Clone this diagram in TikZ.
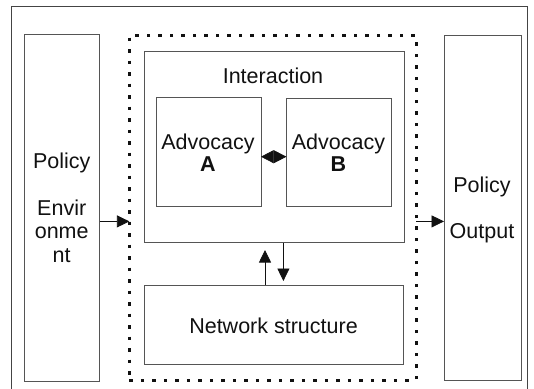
\documentclass[tikz,border=0pt]{standalone}
\usepackage{fontspec}
\setmainfont{Liberation Sans}
\usetikzlibrary{arrows.meta}
\definecolor{frame}{HTML}{555555}
\definecolor{ink}{HTML}{111111}
\tikzset{
  box/.style={draw=frame, line width=0.9pt, outer sep=0pt, inner sep=0pt, fill=white},
  grpbox/.style={draw=ink, line width=3pt, dash pattern=on 3.5pt off 8pt, outer sep=0pt, inner sep=0pt},
  lbl/.style={anchor=base, inner sep=0pt, text=ink, font=\fontsize{21.5}{24}\selectfont},
  blbl/.style={lbl, font=\fontsize{21.5}{24}\selectfont\bfseries},
  arr/.style={draw=ink, line width=0.8pt, -{Triangle[length=12.5pt,width=12pt]}},
  diam/.style={draw=ink, line width=0.6pt, {Triangle[length=12.7pt,width=13pt]}-{Triangle[length=12.7pt,width=13pt]}}
}
\begin{document}
\begin{tikzpicture}[x=1pt,y=1pt]
\useasboundingbox (0,0) rectangle (534,-388);
\fill[white] (0,0) rectangle (534,-388);
% outer frame (bottom edge lies below the picture)
\draw[draw=frame!80!black, line width=0.9pt] (11,-400) -- (11,-6) -- (527.5,-6) -- (527.5,-400);
% boxes
\node[box, minimum width=75pt, minimum height=346.8pt] (env) at (62,-208.1) {};
\node[grpbox, minimum width=286.6pt, minimum height=344.6pt] (grp) at (272.7,-207.7) {};
\node[box, minimum width=259.6pt, minimum height=190.7pt] (inter) at (274.2,-147.15) {};
\node[box, minimum width=105pt, minimum height=108.9pt] (advA) at (208.5,-152.25) {};
\node[box, minimum width=104.9pt, minimum height=108.3pt] (advB) at (338.85,-152.55) {};
\node[box, minimum width=258.6pt, minimum height=79pt] (net) at (273.7,-324.9) {};
\node[box, minimum width=77pt, minimum height=344.6pt] (out) at (482.5,-207.7) {};
% texts
\node[lbl] (tInter) at (273,-83.5) {Interaction};
\node[lbl] (tAdvA) at (208,-149) {Advocacy};
\node[blbl] (tA) at (208,-171) {A};
\node[lbl] (tAdvB) at (338.5,-149) {Advocacy};
\node[blbl] (tB) at (338.5,-171) {B};
\node[lbl] (tPol1) at (61.7,-168.6) {Policy};
\node[lbl] (tEnv1) at (61.7,-215) {Envir};
\node[lbl] (tEnv2) at (61.7,-238.5) {onme};
\node[lbl] (tEnv3) at (61.7,-262) {nt};
\node[lbl] (tPol2) at (482,-192.4) {Policy};
\node[lbl] (tOut) at (482,-238.4) {Output};
\node[lbl] (tNet) at (273.5,-333) {Network structure};
% connectors
\coordinate (lvl) at (0,-221.4);
\coordinate (dmy) at (0,-156.7);
\coordinate (upx) at (265,0);
\coordinate (dnx) at (283.4,0);
\draw[arr] (env.east |- lvl) -- (grp.west |- lvl);
\draw[arr] (grp.east |- lvl) -- (out.west |- lvl);
\draw[diam] (advA.east |- dmy) -- (advB.west |- dmy);
\draw[arr] (net.north -| upx) -- ++(0,35.4);
\draw[arr] (inter.south -| dnx) -- ++(0,-38.5);
\end{tikzpicture}
\end{document}
